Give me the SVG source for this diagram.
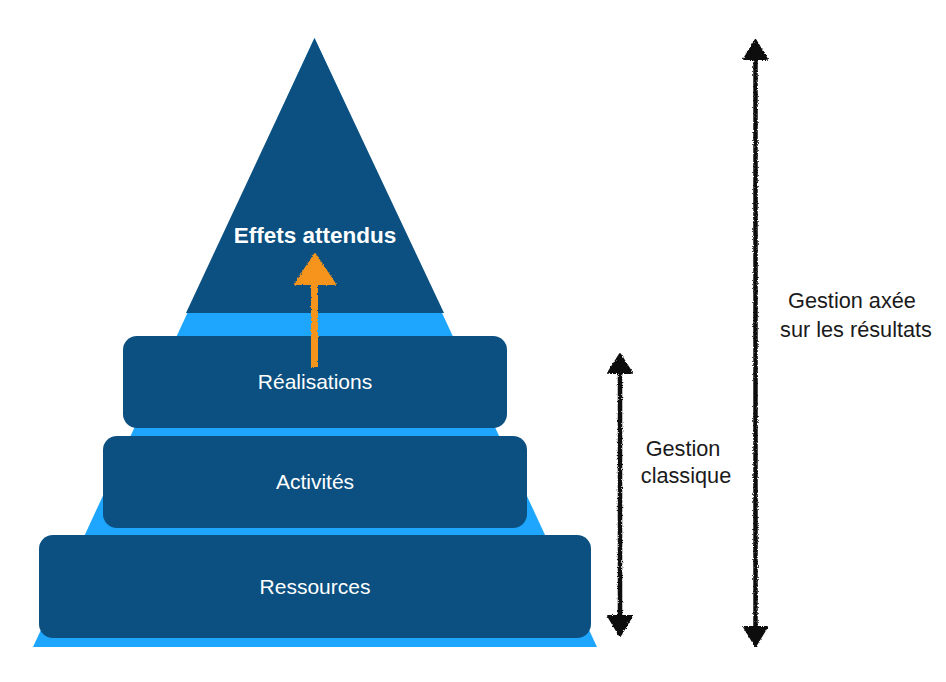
<svg xmlns="http://www.w3.org/2000/svg" width="946" height="682" viewBox="0 0 946 682">
  <defs>
    <style>
      .dark { fill: #0b5080; }
      .light { fill: #1ea6fe; }
      .lbl { font-family: "Liberation Sans", Arial, Helvetica, sans-serif; font-size: 21px; fill: #ffffff; text-anchor: middle; }
      .bold { font-weight: bold; font-size: 22.5px; }
      .side { font-family: "Liberation Sans", Arial, Helvetica, sans-serif; font-size: 21.7px; fill: #1a1a1a; text-anchor: middle; }
      .blk { fill: #111111; stroke: #111111; }
      .org { fill: #f7941d; stroke: #f7941d; }
    </style>
    <filter id="rough" x="-20%" y="-5%" width="140%" height="110%">
      <feTurbulence type="fractalNoise" baseFrequency="1.2" numOctaves="2" seed="3" result="n"/>
      <feDisplacementMap in="SourceGraphic" in2="n" scale="3" xChannelSelector="R" yChannelSelector="G"/>
    </filter>
  </defs>

  <g id="pyramid">
    <polygon class="light" points="314.5,38 597,647 33,647"/>
    <polygon class="dark" points="314.5,38 444,313 186,313"/>
  </g>

  <g id="node-effets">
    <text class="lbl bold" x="315" y="243">Effets attendus</text>
  </g>

  <g id="node-realisations">
    <rect class="dark" x="123" y="336" width="384" height="92" rx="14"/>
    <text class="lbl" x="315" y="389">Réalisations</text>
  </g>

  <g id="node-activites">
    <rect class="dark" x="103" y="436" width="424" height="92" rx="14"/>
    <text class="lbl" x="315" y="489">Activités</text>
  </g>

  <g id="node-ressources">
    <rect class="dark" x="39" y="535" width="552" height="103" rx="14"/>
    <text class="lbl" x="315" y="594">Ressources</text>
  </g>

  <g id="connectors" filter="url(#rough)">
    <!-- orange upward arrow -->
    <line class="org" x1="314.5" y1="367" x2="314.5" y2="282" stroke-width="7"/>
    <polygon class="org" points="315,254 335,284 295,284" stroke-width="2" stroke-linejoin="round"/>
    <!-- Gestion classique double arrow -->
    <line class="blk" x1="620" y1="372" x2="620" y2="618" stroke-width="4.5"/>
    <polygon class="blk" points="620,354 632,373 608,373" stroke-width="2" stroke-linejoin="round"/>
    <polygon class="blk" points="620,636 632,616 608,616" stroke-width="2" stroke-linejoin="round"/>
    <!-- Gestion axée sur les résultats double arrow -->
    <line class="blk" x1="755.5" y1="58" x2="755.5" y2="628" stroke-width="4.5"/>
    <polygon class="blk" points="755.5,40 767,59 744,59" stroke-width="2" stroke-linejoin="round"/>
    <polygon class="blk" points="755.5,646 767,627 744,627" stroke-width="2" stroke-linejoin="round"/>
  </g>

  <g id="label-classique">
    <text class="side" x="683" y="456">Gestion</text>
    <text class="side" x="686" y="483">classique</text>
  </g>

  <g id="label-gar">
    <text class="side" x="852" y="308">Gestion axée</text>
    <text class="side" x="856" y="337">sur les résultats</text>
  </g>
</svg>
